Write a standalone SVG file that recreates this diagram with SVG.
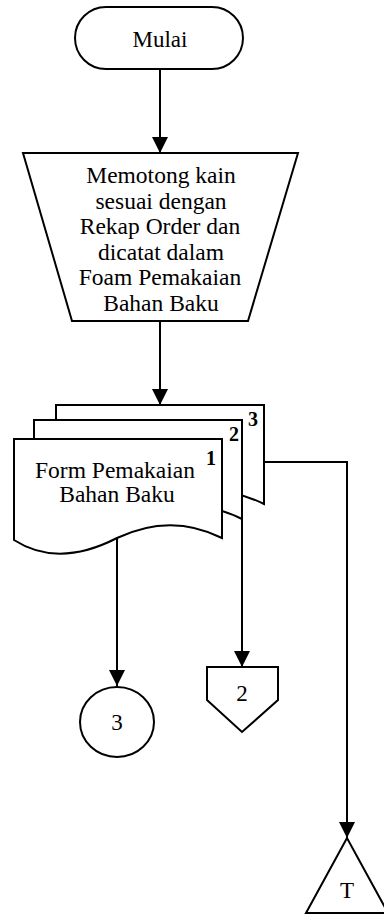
<svg xmlns="http://www.w3.org/2000/svg" width="384" height="914" viewBox="0 0 384 914">
<defs>
<style>
.s{fill:#fff;stroke:#000;stroke-width:2}
.t{font-family:"Liberation Serif","Times New Roman",serif;font-size:23px;fill:#000;text-anchor:middle}
.n{font-family:"Liberation Serif","Times New Roman",serif;font-size:20px;font-weight:bold;fill:#000;text-anchor:middle}
.c{fill:none;stroke:#000;stroke-width:2}
</style>
<marker id="a" markerUnits="userSpaceOnUse" markerWidth="16" markerHeight="16" refX="16" refY="8" orient="auto">
<path d="M0,0 L16,8 L0,16 z" fill="#000"/>
</marker>
<path id="doc" d="M14,439 H222 V538 C190,522 155,520 117,538 C80,557 45,560 14,540 Z"/>
</defs>
<rect width="384" height="914" fill="#fff"/>
<g id="connectors">
<path class="c" d="M160,69 V153" marker-end="url(#a)"/>
<path class="c" d="M160,321 V405" marker-end="url(#a)"/>
<path class="c" d="M117,538 V686" marker-end="url(#a)"/>
<path class="c" d="M242,519 V667" marker-end="url(#a)"/>
<path class="c" d="M264,462 H347 V838" marker-end="url(#a)"/>
</g>
<g id="mulai">
<rect class="s" x="75" y="7" width="168" height="62" rx="31"/>
<text class="t" x="160" y="47">Mulai</text>
</g>
<g id="memotong">
<polygon class="s" points="23,153 298,153 248,321 72,321"/>
<text class="t" style="font-size:23.5px" x="160"><tspan x="161" y="183">Memotong kain</tspan><tspan x="161" y="208.6">sesuai dengan</tspan><tspan x="160" y="234.2">Rekap Order dan</tspan><tspan x="161" y="259.8">dicatat dalam</tspan><tspan x="160" y="285.4">Foam Pemakaian</tspan><tspan x="161" y="311">Bahan Baku</tspan></text>
</g>
<g id="form3">
<use href="#doc" class="s" transform="translate(42,-34)"/>
<text class="n" x="253" y="426">3</text>
</g>
<g id="form2">
<use href="#doc" class="s" transform="translate(20,-19)"/>
<text class="n" x="234" y="441">2</text>
</g>
<g id="form1">
<use href="#doc" class="s"/>
<text class="n" x="211" y="465">1</text>
<text class="t" style="font-size:23.5px" x="116"><tspan x="115" y="478">Form Pemakaian</tspan><tspan x="117" y="502">Bahan Baku</tspan></text>
</g>
<g id="conn3">
<ellipse class="s" cx="117" cy="722" rx="37" ry="35"/>
<text class="t" x="117" y="730">3</text>
</g>
<g id="off2">
<polygon class="s" points="207,667 278,667 278,700 242,732 207,700"/>
<text class="t" x="242" y="701">2</text>
</g>
<g id="arsip">
<polygon class="s" points="347,838 306,913 388,913"/>
<text class="t" x="347" y="898">T</text>
</g>
</svg>
